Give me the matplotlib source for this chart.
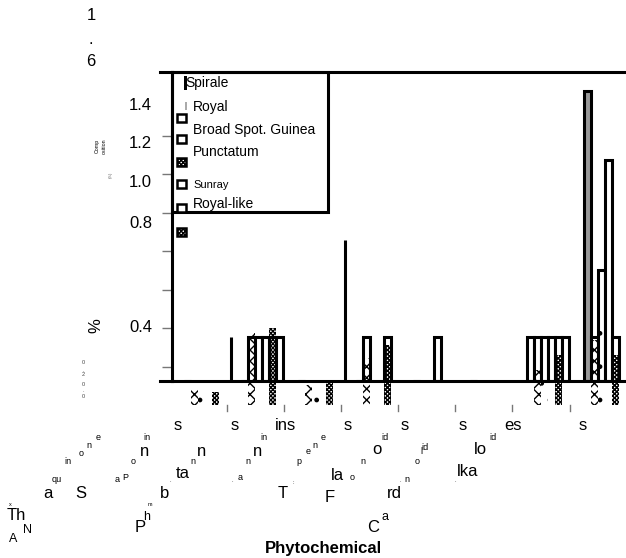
import numpy as np
import matplotlib.pyplot as plt
from matplotlib.patches import Rectangle

plt.rcParams['font.family'] = ['Liberation Sans', 'DejaVu Sans']
plt.rcParams['hatch.linewidth'] = 1.0

# categories (the axis labels come out broken into pieces, see below)
groups = ["Anthraquinones", "Saponins", "Phlobatannins", "Tannins",
          "Terpenes", "Flavonoids", "Cardenolids", "Alkaloids"]

# bar heights, one list per series slot
spirale = [0, 0.226, 0, 0.729, 0, 0, 0, 0]
royal = [0, 0, 0, 0, 0, 0, 0, 1.50]
broad_spot = [0, 0, 0, 0, 0, 0, 0.226, 0]
punctatum = [0, 0.226, 0, 0.226, 0, 0, 0.226, 0.226]
sunray = [0, 0.226, 0, 0, 0, 0, 0.226, 0.573]
royal_like = [0, 0.226, 0, 0, 0.226, 0, 0.226, 1.144]
slot6 = [0, 0.226, 0, 0.226, 0, 0, 0.226, 0.226]
slot7 = [0, 0.226, 0, 0, 0, 0, 0.226, 0]

# hatched overlays (drawn from below the axis)
hatch_x = [-0.039, 0.246, -0.023, 0.117, -0.127, -0.127, 0.054, 0.21]
hatch_dot = [-0.049, -0.049, -0.075, -0.086, -0.127, -0.127, 0.08, 0.40]
hatch_dense = [-0.06, 0.272, -0.013, 0.184, -0.127, -0.127, 0.132, 0.132]
hatch_base = -0.127

legend_labels = ["Spirale", "Royal", "Broad Spot. Guinea", "Punctatum",
                 "Sunray", "Royal-like"]
ytick_labels = ["1.4", "1.2", "1.0", "0.8", "0.4"]

W, H = 626, 558


def fx(x):
    return x / W


def fy(y):
    return 1 - y / H


fig = plt.figure(figsize=(6.26, 5.58), dpi=100)
ax = fig.add_axes([fx(172), fy(380.5), (626 - 172) / W, 308.5 / H])

x = np.arange(len(groups))
w = 0.1224


def pos(slot):
    return x + (slot - 3.5) * w


# main bars
ax.bar(pos(0), spirale, width=0.001, color='black', edgecolor='black', linewidth=2.2)
ax.bar(pos(2), royal, width=w, color='#999999', edgecolor='black', linewidth=2.2)
for slot, vals in [(2, broad_spot), (3, punctatum), (4, sunray),
                   (5, royal_like), (6, slot6), (7, slot7)]:
    keep = np.array(vals) > 0
    ax.bar(pos(slot)[keep], np.array(vals)[keep], width=w, color='white',
           edgecolor='black', linewidth=2.2)

# hatched overlays
for slot, vals, hatch in [(3, hatch_x, 'xxx'), (4, hatch_dot, '.'),
                          (6, hatch_dense, 'xxxxxxxx')]:
    hv = np.array(vals) - hatch_base
    ax.bar(pos(slot), hv, bottom=hatch_base, width=w, facecolor='none',
           edgecolor='black', linewidth=0, hatch=hatch, clip_on=False, zorder=3)

ax.set_xlim(-0.455, 7.486)
ax.set_ylim(0, 1.6)

for side in ['left', 'top', 'bottom']:
    ax.spines[side].set_linewidth(2.2)
ax.spines['right'].set_visible(False)
ax.plot([-0.026, 0], [1, 1], color='black', lw=2.2, transform=ax.transAxes, clip_on=False)
ax.plot([-0.026, 0], [0, 0], color='black', lw=2.2, transform=ax.transAxes, clip_on=False)

ax.set_xticks([])
ax.set_yticks(np.arange(7) * 0.2 + 0.07)
ax.set_yticklabels([])
ax.tick_params(axis='y', length=7, width=1, color='#777777')

# detached category ticks below the axis
for b in x[:-1] + 0.5:
    ax.plot([b, b], [-0.079, -0.099], color='#777777', lw=1,
            transform=ax.get_xaxis_transform(), clip_on=False)

# legend drawn by hand
fig.add_artist(Rectangle((fx(172), fy(212)), (328 - 172) / W, (212 - 72) / H,
                         transform=fig.transFigure, fill=False, lw=2.2, ec='black'))
handles = [((184, 76, 187, 90), dict(fc='black', ec='none')),
           ((185, 102, 187, 110), dict(fc='#aaaaaa', ec='none')),
           ((177, 114, 186, 122), dict(fc='white', ec='black', lw=1.8)),
           ((177, 135, 186, 143), dict(fc='white', ec='black', lw=1.8)),
           ((177, 158, 186, 166), dict(fc='white', ec='black', lw=1.8, hatch='xxxxxxxx')),
           ((177, 180, 186, 188), dict(fc='white', ec='black', lw=1.8)),
           ((177, 204, 186, 212), dict(fc='white', ec='black', lw=1.8)),
           ((177, 228, 186, 236), dict(fc='white', ec='black', lw=1.8, hatch='xxxxxxxx'))]
for (x0, y0, x1, y1), kw in handles:
    fig.add_artist(Rectangle((fx(x0), fy(y1)), (x1 - x0) / W, (y1 - y0) / H,
                             transform=fig.transFigure, **kw))
legend_pos = [(185, 83), (193, 107), (193, 130), (193, 152), (193, 185), (193, 204)]
for lab, (lx, ly) in zip(legend_labels, legend_pos):
    if lab == "Sunray":
        fig.text(fx(lx), fy(ly), lab, fontsize=8, va='center', ha='left',
                 family=['Liberation Sans Narrow', 'Liberation Sans'])
    else:
        fig.text(fx(lx), fy(ly), lab, fontsize=10, va='center', ha='left')

# y tick labels, as they landed
for lab, ly in zip(ytick_labels, [106, 144, 183, 224, 327]):
    fig.text(fx(152), fy(ly), lab, fontsize=12, ha='right', va='center')
for ch, ly in [("1", 15), (".", 40), ("6", 62)]:
    fig.text(fx(91), fy(ly), ch, fontsize=12, ha='center', va='center')
for ch, ly in [("0", 363), (".", 370), ("2", 375), ("0", 385), (".", 391), ("0", 397)]:
    fig.text(fx(83), fy(ly), ch, fontsize=4, ha='center', va='center', color='#444444')

fig.text(fx(96), fy(326), "%", fontsize=12, rotation=90, ha='center', va='center')
fig.text(fx(97), fy(146), "Comp", fontsize=3.8, rotation=90, ha='center', va='center')
fig.text(fx(104), fy(146), "osition", fontsize=3.8, rotation=90, ha='center', va='center')
fig.text(fx(111), fy(175), "(%)", fontsize=3, rotation=90, ha='center', va='center', color='#555555')

# broken category label pieces
big = [("s", 178, 425), ("s", 235, 425), ("ins", 285, 425), ("s", 348, 425),
       ("s", 405, 425), ("s", 463, 425), ("es", 513, 425), ("s", 583, 425),
       ("n", 145, 451), ("n", 202, 451), ("n", 258, 451), ("o", 377, 450),
       ("lo", 480, 450), ("ta", 183, 473), ("la", 337, 475), ("lka", 468, 471),
       ("a", 48, 494), ("S", 81, 494), ("b", 165, 494), ("T", 283, 494),
       ("F", 330, 498), ("rd", 394, 494), ("Th", 16, 516), ("P", 140, 527),
       ("C", 373, 527)]
mid = [("N", 27, 530), ("A", 13, 539), ("a", 385, 517), ("h", 147, 517)]
small = [("e", 98, 438), ("n", 89, 446), ("o", 81, 454), ("in", 68, 462),
         ("qu", 57, 479), ("in", 147, 437), ("o", 133, 462), ("a", 117, 479),
         ("P", 125, 477), ("n", 193, 462), ("in", 264, 437), ("n", 248, 462),
         ("a", 240, 477), ("p", 299, 462), ("e", 308, 451), ("n", 315, 445),
         ("e", 323, 438), ("id", 385, 437), ("n", 363, 462), ("o", 352, 477),
         ("id", 425, 447), ("l", 421, 452), ("o", 417, 462), ("n", 407, 480),
         ("id", 493, 437)]
tiny = [("x", 10, 504), (".", 170, 481), (".", 232, 480), (":", 293, 483),
        (".", 400, 480), (".", 455, 480), ("m", 150, 504)]
for group, size in [(big, 12), (mid, 9), (small, 6.5), (tiny, 4)]:
    for s, tx, ty in group:
        fig.text(fx(tx), fy(ty), s, fontsize=size, ha='center', va='center')

fig.text(fx(323), fy(548), "Phytochemical", fontsize=12, fontweight='bold',
         ha='center', va='center')

plt.savefig("out.png", dpi=100)
